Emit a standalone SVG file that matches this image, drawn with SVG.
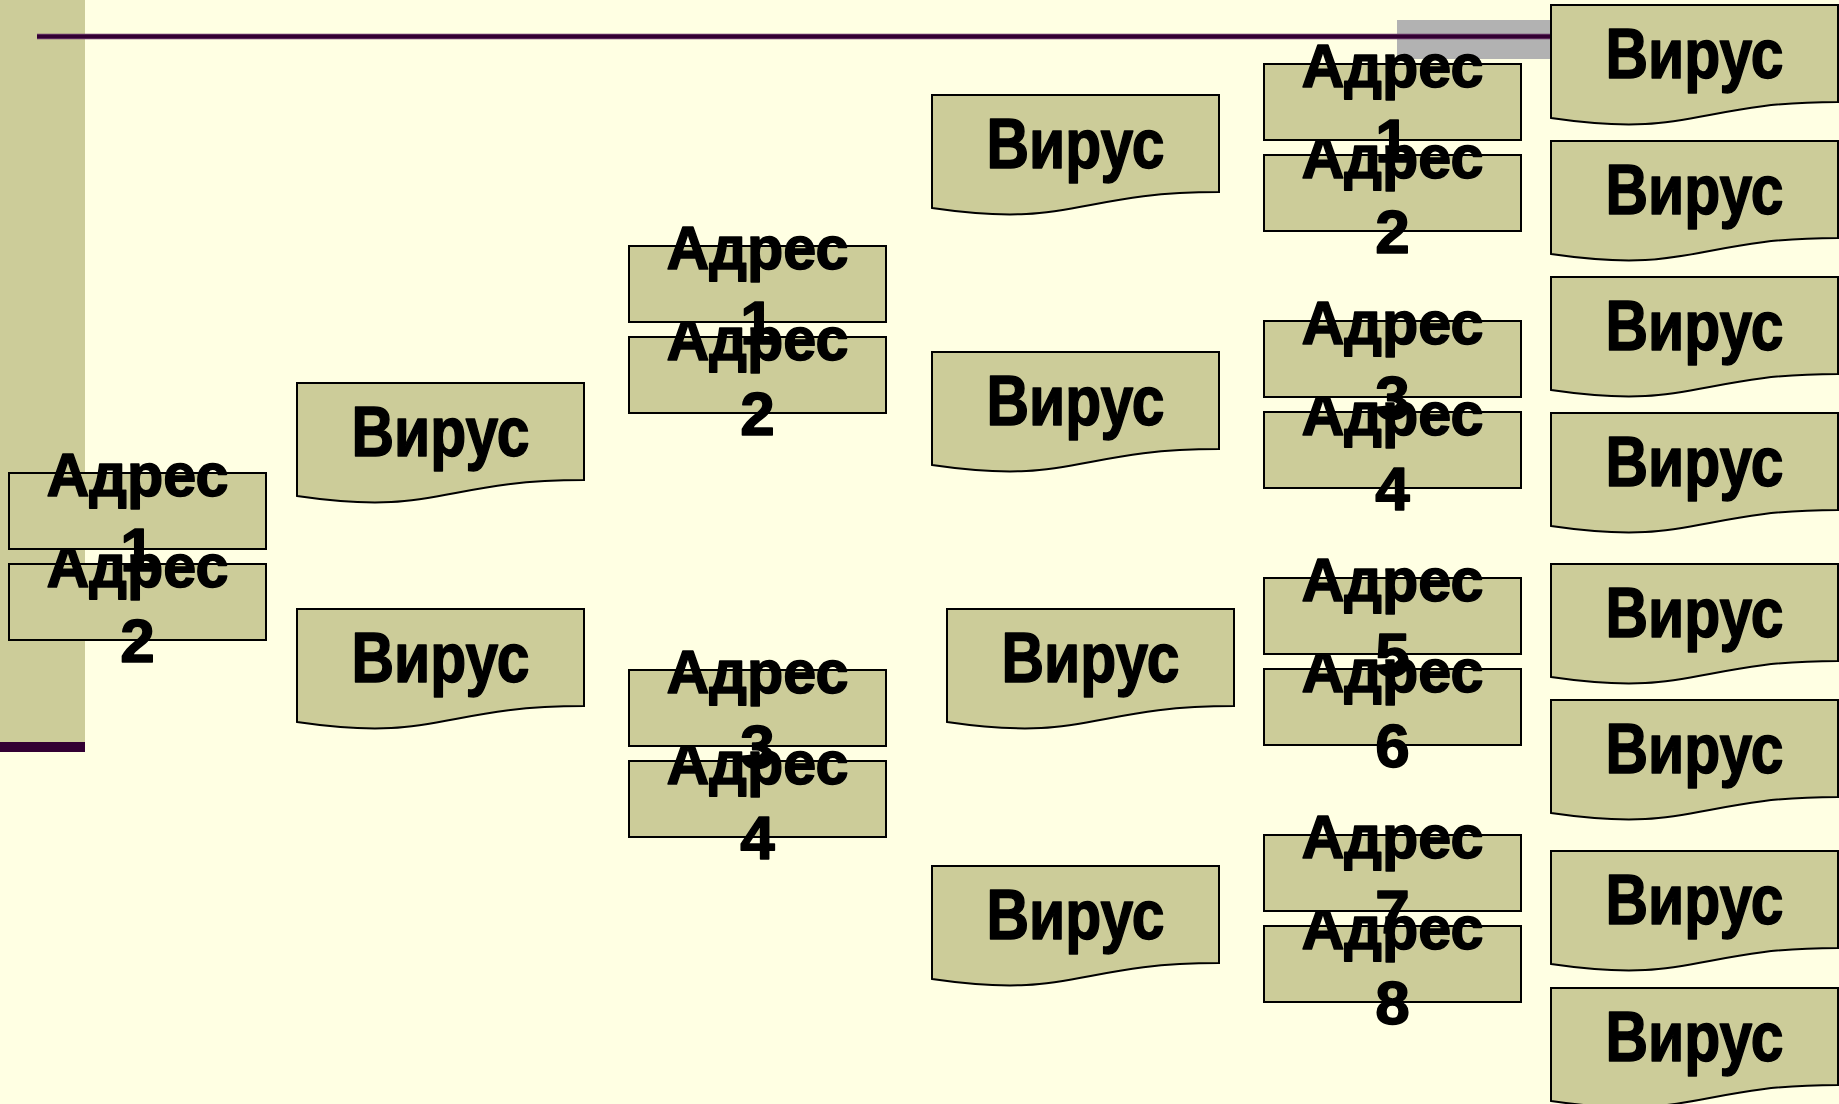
<svg xmlns="http://www.w3.org/2000/svg" xmlns:xlink="http://www.w3.org/1999/xlink" width="1839" height="1104" viewBox="0 0 1839 1104">
<style>
.box{fill:#CCCC99;stroke:#000;stroke-width:2}
.t{font-family:"Liberation Sans","DejaVu Sans",sans-serif;font-weight:bold;fill:#000;stroke:#000;stroke-width:1.5;stroke-linejoin:round;text-anchor:middle}
.a{font-size:62px}
.v{font-size:70px}
</style>
<defs>
<path id="doc" d="M0 0 H287 V97 C143.5 97 143.5 134 0 113 Z"/>
</defs>
<rect x="0" y="0" width="1839" height="1104" fill="#FFFFE3"/>
<g id="decor">
<rect x="0" y="0" width="85" height="742" fill="#CCCC99"/>
<rect x="0" y="742" width="85" height="10" fill="#330033"/>
<rect x="1397" y="20" width="154" height="39" fill="#B2B2B2"/>
<line x1="37" y1="36.5" x2="1551" y2="36.5" stroke="#663366" stroke-width="5.5"/>
<line x1="37" y1="36.5" x2="1551" y2="36.5" stroke="#330033" stroke-width="3.5"/>
</g>
<g id="connectors"></g>

<!-- Left column addresses -->
<g id="addrL2"><rect class="box" x="9" y="564" width="257" height="76"/><text class="t a" x="137.5" y="587" textLength="182" lengthAdjust="spacingAndGlyphs">Адрес</text><text class="t a" x="137.5" y="662">2</text></g>
<g id="addrL1"><rect class="box" x="9" y="473" width="257" height="76"/><text class="t a" x="137.5" y="496" textLength="182" lengthAdjust="spacingAndGlyphs">Адрес</text><text class="t a" x="137.5" y="571">1</text></g>

<!-- Column 1 viruses -->
<g id="virusC1a"><use href="#doc" class="box" transform="translate(297,383)"/><text class="t v" x="440.5" y="456" textLength="178" lengthAdjust="spacingAndGlyphs">Вирус</text></g>
<g id="virusC1b"><use href="#doc" class="box" transform="translate(297,609)"/><text class="t v" x="440.5" y="682" textLength="178" lengthAdjust="spacingAndGlyphs">Вирус</text></g>

<!-- Column 2 addresses -->
<g id="addrC2_2"><rect class="box" x="629" y="337" width="257" height="76"/><text class="t a" x="757.5" y="360" textLength="182" lengthAdjust="spacingAndGlyphs">Адрес</text><text class="t a" x="757.5" y="435">2</text></g>
<g id="addrC2_1"><rect class="box" x="629" y="246" width="257" height="76"/><text class="t a" x="757.5" y="269" textLength="182" lengthAdjust="spacingAndGlyphs">Адрес</text><text class="t a" x="757.5" y="344">1</text></g>
<g id="addrC2_4"><rect class="box" x="629" y="761" width="257" height="76"/><text class="t a" x="757.5" y="784" textLength="182" lengthAdjust="spacingAndGlyphs">Адрес</text><text class="t a" x="757.5" y="859">4</text></g>
<g id="addrC2_3"><rect class="box" x="629" y="670" width="257" height="76"/><text class="t a" x="757.5" y="693" textLength="182" lengthAdjust="spacingAndGlyphs">Адрес</text><text class="t a" x="757.5" y="768">3</text></g>

<!-- Column 3 viruses -->
<g id="virusC3a"><use href="#doc" class="box" transform="translate(932,95)"/><text class="t v" x="1075.5" y="168" textLength="178" lengthAdjust="spacingAndGlyphs">Вирус</text></g>
<g id="virusC3b"><use href="#doc" class="box" transform="translate(932,352)"/><text class="t v" x="1075.5" y="425" textLength="178" lengthAdjust="spacingAndGlyphs">Вирус</text></g>
<g id="virusC3c"><use href="#doc" class="box" transform="translate(947,609)"/><text class="t v" x="1090.5" y="682" textLength="178" lengthAdjust="spacingAndGlyphs">Вирус</text></g>
<g id="virusC3d"><use href="#doc" class="box" transform="translate(932,866)"/><text class="t v" x="1075.5" y="939" textLength="178" lengthAdjust="spacingAndGlyphs">Вирус</text></g>

<!-- Column 4 addresses -->
<g id="addrC4_2"><rect class="box" x="1264" y="155" width="257" height="76"/><text class="t a" x="1392.5" y="178" textLength="182" lengthAdjust="spacingAndGlyphs">Адрес</text><text class="t a" x="1392.5" y="253">2</text></g>
<g id="addrC4_1"><rect class="box" x="1264" y="64" width="257" height="76"/><text class="t a" x="1392.5" y="87" textLength="182" lengthAdjust="spacingAndGlyphs">Адрес</text><text class="t a" x="1392.5" y="162">1</text></g>
<g id="addrC4_4"><rect class="box" x="1264" y="412" width="257" height="76"/><text class="t a" x="1392.5" y="435" textLength="182" lengthAdjust="spacingAndGlyphs">Адрес</text><text class="t a" x="1392.5" y="510">4</text></g>
<g id="addrC4_3"><rect class="box" x="1264" y="321" width="257" height="76"/><text class="t a" x="1392.5" y="344" textLength="182" lengthAdjust="spacingAndGlyphs">Адрес</text><text class="t a" x="1392.5" y="419">3</text></g>
<g id="addrC4_6"><rect class="box" x="1264" y="669" width="257" height="76"/><text class="t a" x="1392.5" y="692" textLength="182" lengthAdjust="spacingAndGlyphs">Адрес</text><text class="t a" x="1392.5" y="767">6</text></g>
<g id="addrC4_5"><rect class="box" x="1264" y="578" width="257" height="76"/><text class="t a" x="1392.5" y="601" textLength="182" lengthAdjust="spacingAndGlyphs">Адрес</text><text class="t a" x="1392.5" y="676">5</text></g>
<g id="addrC4_8"><rect class="box" x="1264" y="926" width="257" height="76"/><text class="t a" x="1392.5" y="949" textLength="182" lengthAdjust="spacingAndGlyphs">Адрес</text><text class="t a" x="1392.5" y="1024">8</text></g>
<g id="addrC4_7"><rect class="box" x="1264" y="835" width="257" height="76"/><text class="t a" x="1392.5" y="858" textLength="182" lengthAdjust="spacingAndGlyphs">Адрес</text><text class="t a" x="1392.5" y="933">7</text></g>

<!-- Column 5 viruses -->
<g id="virusC5a"><use href="#doc" class="box" transform="translate(1551,5)"/><text class="t v" x="1694.5" y="78" textLength="178" lengthAdjust="spacingAndGlyphs">Вирус</text></g>
<g id="virusC5b"><use href="#doc" class="box" transform="translate(1551,141)"/><text class="t v" x="1694.5" y="214" textLength="178" lengthAdjust="spacingAndGlyphs">Вирус</text></g>
<g id="virusC5c"><use href="#doc" class="box" transform="translate(1551,277)"/><text class="t v" x="1694.5" y="350" textLength="178" lengthAdjust="spacingAndGlyphs">Вирус</text></g>
<g id="virusC5d"><use href="#doc" class="box" transform="translate(1551,413)"/><text class="t v" x="1694.5" y="486" textLength="178" lengthAdjust="spacingAndGlyphs">Вирус</text></g>
<g id="virusC5e"><use href="#doc" class="box" transform="translate(1551,564)"/><text class="t v" x="1694.5" y="637" textLength="178" lengthAdjust="spacingAndGlyphs">Вирус</text></g>
<g id="virusC5f"><use href="#doc" class="box" transform="translate(1551,700)"/><text class="t v" x="1694.5" y="773" textLength="178" lengthAdjust="spacingAndGlyphs">Вирус</text></g>
<g id="virusC5g"><use href="#doc" class="box" transform="translate(1551,851)"/><text class="t v" x="1694.5" y="924" textLength="178" lengthAdjust="spacingAndGlyphs">Вирус</text></g>
<g id="virusC5h"><use href="#doc" class="box" transform="translate(1551,988)"/><text class="t v" x="1694.5" y="1061" textLength="178" lengthAdjust="spacingAndGlyphs">Вирус</text></g>
</svg>
